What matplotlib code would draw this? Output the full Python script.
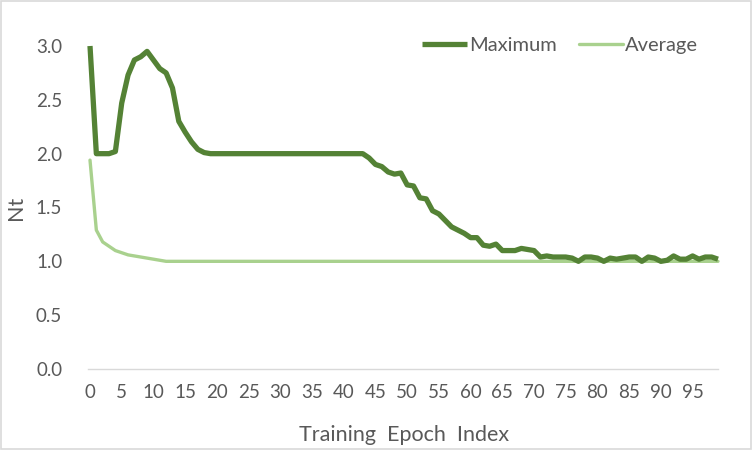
import matplotlib
matplotlib.use("Agg")
from matplotlib import pyplot as plt
import numpy as np

plt.rcParams['font.family'] = ['Lato', 'DejaVu Sans']

epochs = np.arange(100)

maximum = [3.00, 2.00, 2.00, 2.00, 2.02, 2.47, 2.73, 2.87, 2.90, 2.95,
           2.87, 2.79, 2.75, 2.61, 2.30, 2.20, 2.11, 2.04, 2.01, 2.00,
           2.00, 2.00, 2.00, 2.00, 2.00, 2.00, 2.00, 2.00, 2.00, 2.00,
           2.00, 2.00, 2.00, 2.00, 2.00, 2.00, 2.00, 2.00, 2.00, 2.00,
           2.00, 2.00, 2.00, 2.00, 1.96, 1.90, 1.88, 1.83, 1.81, 1.82,
           1.71, 1.70, 1.59, 1.58, 1.47, 1.44, 1.38, 1.32, 1.29, 1.26,
           1.22, 1.22, 1.15, 1.14, 1.16, 1.10, 1.10, 1.10, 1.12, 1.11,
           1.10, 1.04, 1.05, 1.04, 1.04, 1.04, 1.03, 1.00, 1.04, 1.04,
           1.03, 1.00, 1.03, 1.02, 1.03, 1.04, 1.04, 1.00, 1.04, 1.03,
           1.00, 1.01, 1.05, 1.02, 1.02, 1.05, 1.02, 1.04, 1.04, 1.02]

average = [1.94, 1.29, 1.18, 1.14, 1.10, 1.08, 1.06, 1.05, 1.04, 1.03,
           1.02, 1.01] + [1.00] * 88

xtick_vals = list(range(0, 100, 5))
ytick_vals = [0.0, 0.5, 1.0, 1.5, 2.0, 2.5, 3.0]

dark = '#548235'
light = '#a9d18e'
txt = '#595959'

fig = plt.figure(figsize=(7.53, 4.5), dpi=100)
ax = fig.add_axes([90/753, 1-369/450, 628/753, 323/450])

ax.plot(epochs, average, color=light, lw=2.4, label='Average', clip_on=False,
        solid_capstyle='round', zorder=2)
ax.plot(epochs, maximum, color=dark, lw=3.8, label='Maximum', clip_on=False,
        solid_capstyle='butt', solid_joinstyle='round', zorder=3)

ax.set_xlim(0, 99)
ax.set_ylim(0, 3)
ax.set_xticks(xtick_vals)
ax.set_yticks(ytick_vals)
ax.set_yticklabels(['%.1f' % v for v in ytick_vals])
ax.tick_params(axis='both', length=0, labelsize=13.5, colors=txt)
ax.tick_params(axis='x', pad=11)
ax.tick_params(axis='y', pad=20)

for s in ['top', 'right', 'left']:
    ax.spines[s].set_visible(False)
ax.spines['bottom'].set_color('#d9d9d9')
ax.spines['bottom'].set_linewidth(1.0)
ax.spines['bottom'].set_bounds(-0.3, 99)

ax.set_xlabel('Training  Epoch  Index', fontsize=15.5, color=txt, labelpad=17)
ax.set_ylabel('Nt', fontsize=15.5, color=txt, labelpad=7)

handles, labels = ax.get_legend_handles_labels()
leg = ax.legend(handles[::-1], labels[::-1], ncol=2, frameon=False,
                loc='upper right', bbox_to_anchor=(0.997, 1.085),
                fontsize=14.5, handlelength=2.2, handletextpad=0.1,
                columnspacing=1.1, labelcolor=txt)

border = plt.Rectangle((0.001, 0.002), 0.997, 0.996, transform=fig.transFigure,
                       fill=False, edgecolor='#d9d9d9', lw=1.2)
fig.patches.append(border)

fig.savefig('out.png', dpi=100)
